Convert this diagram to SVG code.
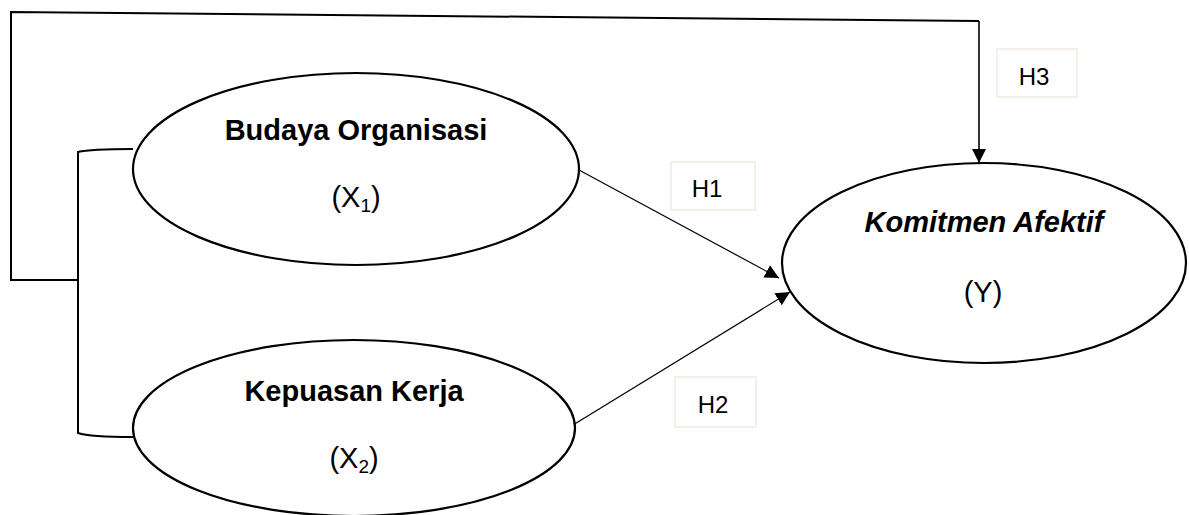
<svg xmlns="http://www.w3.org/2000/svg" width="1189" height="515" viewBox="0 0 1189 515">
<style>
.node ellipse{fill:#fff;stroke:#000;stroke-width:2.2}
.t{font-family:"Liberation Sans",Arial,sans-serif;font-size:29px;fill:#000;text-anchor:middle}
.b{font-weight:bold}
.bi{font-weight:bold;font-style:italic}
.lbl rect{fill:#fff;stroke:#eeece1;stroke-width:1.5}
.lbl text{font-family:"Liberation Sans",Arial,sans-serif;font-size:24px;fill:#000;text-anchor:middle}
.thick{fill:none;stroke:#000;stroke-width:2}
.thin{fill:none;stroke:#000;stroke-width:1.2}
</style>
<defs>
<marker id="ah" markerUnits="userSpaceOnUse" markerWidth="14" markerHeight="14" viewBox="0 0 14 14" refX="14" refY="7" orient="auto">
<path d="M0,0 L14,7 L0,14 Z" fill="#000"/>
</marker>
</defs>
<g id="connectors">
<path class="thick" d="M78,280 L11,280 L11,12 L979,21"/>
<path class="thin" d="M979,21 L979,163" marker-end="url(#ah)" style="stroke-width:1.6"/>
<path class="thick" d="M133,149 Q90,149 78,152 L78,433 Q90,437 133,437"/>
<path class="thin" d="M579,170 L779,278" marker-end="url(#ah)"/>
<path class="thin" d="M573,425 L790,292" marker-end="url(#ah)"/>
</g>
<g id="budaya" class="node">
<ellipse cx="356" cy="169" rx="223" ry="96"/>
<text class="t b" x="356" y="140">Budaya Organisasi</text>
<text class="t" x="356" y="207">(X<tspan font-size="19" dy="5">1</tspan><tspan dy="-5">)</tspan></text>
</g>
<g id="kepuasan" class="node">
<ellipse cx="354" cy="428" rx="221" ry="88"/>
<text class="t b" x="354" y="401">Kepuasan Kerja</text>
<text class="t" x="354" y="468">(X<tspan font-size="19" dy="5">2</tspan><tspan dy="-5">)</tspan></text>
</g>
<g id="komitmen" class="node">
<ellipse cx="984" cy="263" rx="202" ry="100"/>
<text class="t bi" x="984" y="232">Komitmen Afektif</text>
<text class="t" x="983" y="302">(Y)</text>
</g>
<g id="h1" class="lbl">
<rect x="671" y="162" width="84" height="48"/>
<text x="707" y="197">H1</text>
</g>
<g id="h2" class="lbl">
<rect x="675" y="377" width="81" height="50"/>
<text x="713" y="413">H2</text>
</g>
<g id="h3" class="lbl">
<rect x="997" y="49" width="80" height="48"/>
<text x="1034" y="85">H3</text>
</g>
</svg>
